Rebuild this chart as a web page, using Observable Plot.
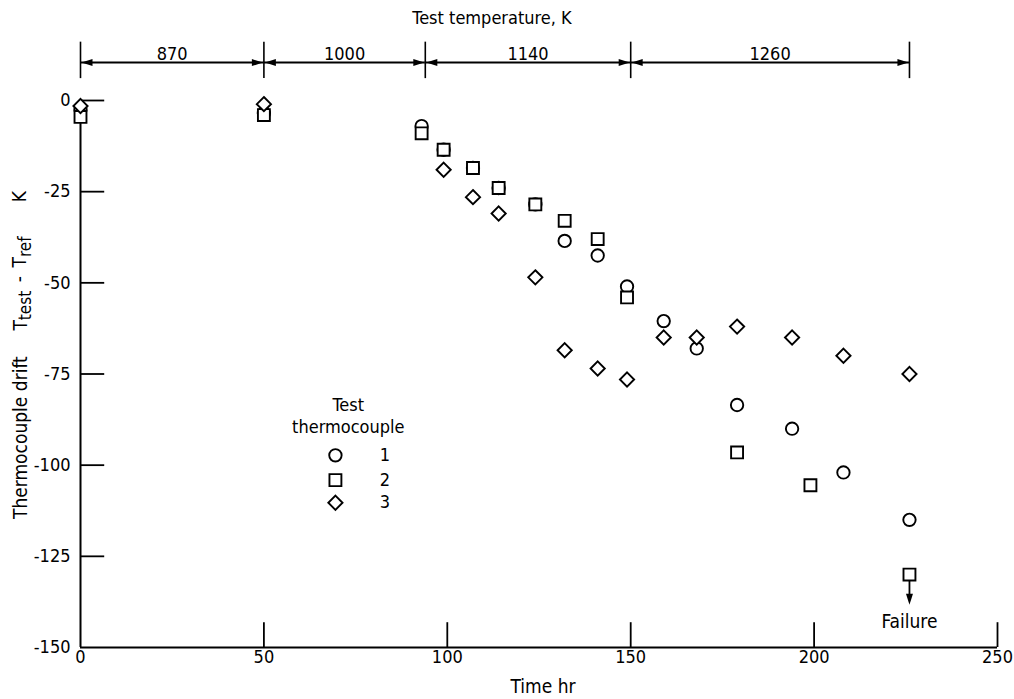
<!DOCTYPE html>
<html><head><meta charset="utf-8">
<script src="https://cdn.jsdelivr.net/npm/d3@7"></script>
<script src="https://cdn.jsdelivr.net/npm/@observablehq/plot@0.6"></script>
<style>body{margin:0;background:#fff} svg{display:block} svg text{font-stretch:condensed}</style>
</head><body><div id="chart"></div>
<script>
const FONT = '"DejaVu Sans Condensed","DejaVu Sans",sans-serif';

// Test thermocouple 1 (circles)
const time1  = [0, 50, 93, 99, 107, 114, 124, 132, 141, 149, 159, 168, 179, 194, 208, 226];
const drift1 = [-2.5, -3.5, -7, -13.5, -18.5, -24, -28.5, -38.5, -42.5, -51, -60.5, -68, -83.5, -90, -102, -115];
// Test thermocouple 2 (squares)
const time2  = [0, 50, 93, 99, 107, 114, 124, 132, 141, 149, 179, 199, 226];
const drift2 = [-4.5, -4, -9, -13.5, -18.5, -24, -28.5, -33, -38, -54, -96.5, -105.5, -130];
// Test thermocouple 3 (diamonds)
const time3  = [0, 50, 99, 107, 114, 124, 132, 141, 149, 159, 168, 179, 194, 208, 226];
const drift3 = [-1.5, -1, -19, -26.5, -31, -48.5, -68.5, -73.5, -76.5, -65, -65, -62, -65, -70, -75];

// Test temperature periods (hours) and labels (K)
const tempBounds = [0, 50, 94, 150, 226];
const tempLabels = ["870", "1000", "1140", "1260"];

const xTicks = [0, 50, 100, 150, 200, 250];
const yTicks = [0, -25, -50, -75, -100, -125, -150];
const legendIds = ["1", "2", "3"];
const failureTime = 226, failureDrift = -130;

const s1 = time1.map((t, i) => ({t, v: drift1[i]}));
const s2 = time2.map((t, i) => ({t, v: drift2[i]}));
const s3 = time3.map((t, i) => ({t, v: drift3[i]}));
const segments = tempLabels.map((label, i) => ({a: tempBounds[i], b: tempBounds[i + 1], label}));

// filled arrowhead with tip at the origin, pointing right
const arrowHead = {draw(ctx) { ctx.moveTo(0, 0); ctx.lineTo(-11, -3.5); ctx.lineTo(-11, 3.5); ctx.closePath(); }};

// band positions above the frame (in y data units, 0 = top of frame)
const bandY = 10.4, bandTop = 16, bandBottom = 6, bandLabelY = 12.8;
// legend placement (data units)
const legX = 69.5, legLabelX = 83, legY = [-97.3, -104.1, -110.3], legHead1 = -83.5, legHead2 = -89.5;

const common = {fill: "white", stroke: "black", strokeWidth: 1.9};
const chart = Plot.plot({
  width: 1014, height: 699,
  marginLeft: 80, marginRight: 17, marginTop: 100, marginBottom: 52,
  style: {fontFamily: FONT, fontSize: "18px", color: "black", background: "white", overflow: "visible"},
  x: {domain: [0, 250], ticks: xTicks, tickSize: 0, tickPadding: 3, label: null, tickFormat: d => d},
  y: {domain: [-150, 0], ticks: yTicks, tickSize: 0, tickPadding: 10, label: null, tickFormat: d => d},
  marks: [
    Plot.ruleY([-150], {strokeWidth: 2}),
    Plot.ruleX([0], {strokeWidth: 2}),
    Plot.ruleX(xTicks.filter(d => d > 0), {y1: -150, y2: -143.2, strokeWidth: 1.8}),
    Plot.ruleY(yTicks.filter(d => d > -150), {x1: 0, x2: 6.6, strokeWidth: 1.8}),
    // temperature band
    Plot.ruleX(tempBounds, {y1: bandBottom, y2: bandTop, strokeWidth: 1.6}),
    Plot.ruleY(segments, {y: bandY, x1: "a", x2: "b", strokeWidth: 2}),
    Plot.dot(segments, {x: "b", y: bandY, symbol: arrowHead, fill: "black", stroke: "none", dx: -1}),
    Plot.dot(segments, {x: "a", y: bandY, symbol: arrowHead, fill: "black", stroke: "none", rotate: 180, dx: 1}),
    Plot.text(segments, {x: d => (d.a + d.b) / 2, y: bandLabelY, text: "label", fontSize: 18}),
    // data
    Plot.dot(s1, {x: "t", y: "v", symbol: "circle", r: 6.2, ...common}),
    Plot.dot(s2, {x: "t", y: "v", symbol: "square2", r: 7.6, ...common}),
    Plot.dot(s3, {x: "t", y: "v", symbol: "diamond2", r: 6.4, ...common}),
    // failure annotation
    Plot.ruleX([failureTime], {y1: failureDrift - 1.8, y2: failureDrift - 7, strokeWidth: 1.8}),
    Plot.dot([failureTime], {x: d => d, y: failureDrift - 8.3, symbol: arrowHead, rotate: 90, fill: "black", stroke: "none"}),
    Plot.text(["Failure"], {x: failureTime, y: failureDrift - 13.1, text: d => d, fontSize: 19}),
    // legend
    Plot.text(["Test"], {x: legX + 3.5, y: legHead1, text: d => d, fontSize: 18}),
    Plot.text(["thermocouple"], {x: legX + 3.5, y: legHead2, text: d => d, fontSize: 18}),
    Plot.dot([0], {x: legX, y: legY[0], symbol: "circle", r: 6.2, ...common}),
    Plot.dot([0], {x: legX, y: legY[1], symbol: "square2", r: 7.6, ...common}),
    Plot.dot([0], {x: legX, y: legY[2], symbol: "diamond2", r: 6.4, ...common}),
    Plot.text(legendIds, {x: legLabelX, y: (d, i) => legY[i], text: d => d, fontSize: 18})
  ]
});

const svg = d3.select(chart);
svg.append("text").attr("x", 492).attr("y", 19).attr("text-anchor", "middle").attr("dominant-baseline", "middle")
  .attr("font-size", 18).attr("font-family", FONT).text("Test temperature, K");
svg.append("text").attr("x", 543).attr("y", 687).attr("text-anchor", "middle").attr("dominant-baseline", "middle")
  .attr("font-size", 19).attr("font-family", FONT).text("Time hr");
const yt = svg.append("text").attr("transform", "translate(21,355) rotate(-90)").attr("text-anchor", "middle")
  .attr("dominant-baseline", "middle").attr("font-size", 19).attr("font-family", FONT);
yt.append("tspan").text("Thermocouple drift\u2003\u2002T");
yt.append("tspan").attr("dy", "0.3em").attr("font-size", 17).text("test");
yt.append("tspan").attr("dy", "-0.3em").text("\u2002-\u2002T");
yt.append("tspan").attr("dy", "0.3em").attr("font-size", 17).text("ref");
yt.append("tspan").attr("dy", "-0.3em").text("\u2003\u2003K");

document.getElementById("chart").appendChild(chart);
</script>
</body></html>
